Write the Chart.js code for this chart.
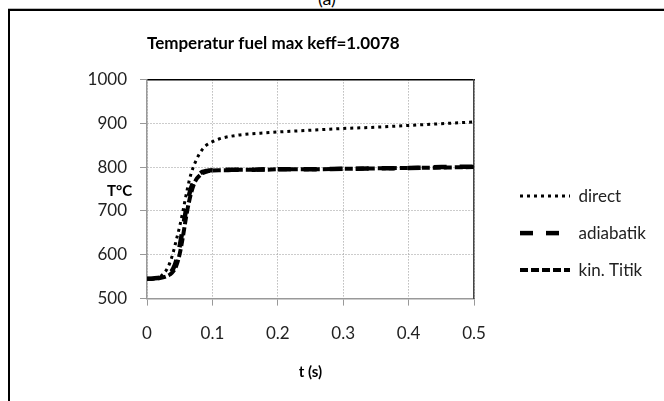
<!DOCTYPE html>
<html><head><meta charset="utf-8">
<script src="https://cdn.jsdelivr.net/npm/chart.js@4.4.0/dist/chart.umd.min.js"></script>
<style>
html,body{margin:0;padding:0;background:#fff;}
#wrap{position:relative;width:664px;height:401px;overflow:hidden;background:#fff;}
#frame{position:absolute;left:8px;top:9px;width:800px;height:600px;border-left:2px solid #000;border-top:2px solid #000;box-shadow:0 -1px 0 #bbb;}
canvas{position:absolute;left:0;top:0;}
.lbl{position:absolute;font-family:Lato,sans-serif;color:#000;white-space:nowrap;}
</style></head><body>
<div id="wrap">
<div id="frame"></div>
<div class="lbl" style="left:318px;top:-13px;font-size:18px;">(a)</div>
<canvas id="c" width="664" height="401"></canvas>
<div class="lbl" style="left:107px;top:181px;font-size:15px;font-weight:bold;">T°C</div>
</div>
<script>
const tValues =          [0, 0.01, 0.02, 0.03, 0.035, 0.04, 0.045, 0.05, 0.055, 0.06, 0.065, 0.07, 0.075, 0.08, 0.085, 0.09, 0.095, 0.1, 0.11, 0.12, 0.14, 0.16, 0.18, 0.2, 0.25, 0.3, 0.35, 0.4, 0.45, 0.5];
const directValues =     [545, 546, 550, 566, 582, 605, 635, 665, 700, 738, 772, 797, 815, 830, 841, 849, 854, 858, 864, 868, 873, 876, 878, 880, 884, 888, 891, 895, 899, 903];
const adiabatikValues =  [545, 546, 548, 553, 558, 568, 588, 620, 662, 705, 740, 763, 776, 784, 789, 791, 792, 793, 793, 794, 794, 794, 795, 795, 795, 796, 797, 798, 800, 801];
const kinTitikValues =   [545, 546, 547, 551, 555, 562, 576, 602, 642, 688, 726, 754, 771, 780, 786, 789, 791, 792, 793, 793, 794, 794, 794, 795, 795, 796, 797, 798, 799, 800];
const seriesNames = ['direct', 'adiabatik', 'kin. Titik'];
const xTickLabels = ['0', '0.1', '0.2', '0.3', '0.4', '0.5'];
const yTickLabels = ['500', '600', '700', '800', '900', '1000'];
const chartTitle = 'Temperatur fuel max keff=1.0078';
const xAxisTitle = 't (s)';

const pts = arr => arr.map((v, i) => ({x: tValues[i], y: v}));
const FONT = 'Lato';

// let the legend's drawing box reach the canvas edge so the labels are not clipped
const legendRoom = {
  id: 'legendRoom',
  beforeDraw(chart) {
    const lg = chart.legend;
    if (lg) { lg.right = chart.width; lg.width = lg.right - lg.left; }
  }
};

new Chart(document.getElementById('c'), {
  type: 'line',
  plugins: [legendRoom],
  data: {
    datasets: [
      {label: seriesNames[0], data: pts(directValues), borderColor: '#000', backgroundColor: '#000',
       borderWidth: 3, borderDash: [3, 4], pointRadius: 0, cubicInterpolationMode: 'monotone'},
      {label: seriesNames[1], data: pts(adiabatikValues), borderColor: '#000', backgroundColor: '#000',
       borderWidth: 4.5, borderDash: [13, 13], pointRadius: 0, cubicInterpolationMode: 'monotone'},
      {label: seriesNames[2], data: pts(kinTitikValues), borderColor: '#000', backgroundColor: '#000',
       borderWidth: 4, borderDash: [8, 3], pointRadius: 0, cubicInterpolationMode: 'monotone'}
    ]
  },
  options: {
    responsive: false,
    animation: false,
    devicePixelRatio: 1,
    layout: {padding: {left: 87, right: 94, top: 0, bottom: 0}},
    plugins: {
      title: {display: true, text: chartTitle, fullSize: false, align: 'start', color: '#000',
              font: {family: FONT, size: 17, weight: 'bold'}, padding: {top: 33, bottom: 26}},
      legend: {position: 'right', align: 'end', fullSize: false, maxWidth: 70,
               labels: {usePointStyle: true, pointStyle: 'line', pointStyleWidth: 50, padding: 20,
                        color: '#222', font: {family: FONT, size: 17},
                        generateLabels: chart => {
                          const items = Chart.defaults.plugins.legend.labels.generateLabels(chart);
                          items.forEach(it => {
                            const ds = chart.data.datasets[it.datasetIndex];
                            it.lineDash = ds.borderDash;
                            it.lineWidth = ds.borderWidth;
                            it.pointStyle = 'line';
                          });
                          return items;
                        }}},
      tooltip: {enabled: false}
    },
    scales: {
      x: {type: 'linear', position: 'bottom', min: 0, max: 0.5,
          ticks: {stepSize: 0.1, callback: (v, i) => xTickLabels[i], color: '#222', padding: 18, maxRotation: 0,
                  font: {family: FONT, size: 17}},
          grid: {color: '#999', tickColor: '#999', tickLength: 7, lineWidth: 1},
          border: {color: '#999', width: 1.5, dash: [1, 2]},
          title: {display: true, text: xAxisTitle, color: '#000', font: {family: FONT, size: 15, weight: 'bold'},
                  padding: {top: 1, bottom: 20}}},
      x2: {type: 'linear', position: 'top', min: 0, max: 0.5,
           ticks: {display: false}, grid: {display: false},
           border: {color: '#000', width: 1.5},
           afterFit: s => { s.height = 0; }},
      y: {type: 'linear', position: 'left', min: 500, max: 1000,
          ticks: {stepSize: 100, callback: (v, i) => yTickLabels[i], color: '#222', padding: 13,
                  font: {family: FONT, size: 17}},
          grid: {color: '#999', tickColor: '#999', tickLength: 7, lineWidth: 1},
          border: {color: '#999', width: 1.5, dash: [1, 2]},
          afterFit: s => { s.width = 60; }},
      y2: {type: 'linear', position: 'right', min: 500, max: 1000,
           ticks: {display: false}, grid: {display: false},
           border: {color: '#444', width: 1.5},
           afterFit: s => { s.width = 26; }}
    }
  }
});
</script>
</body></html>
